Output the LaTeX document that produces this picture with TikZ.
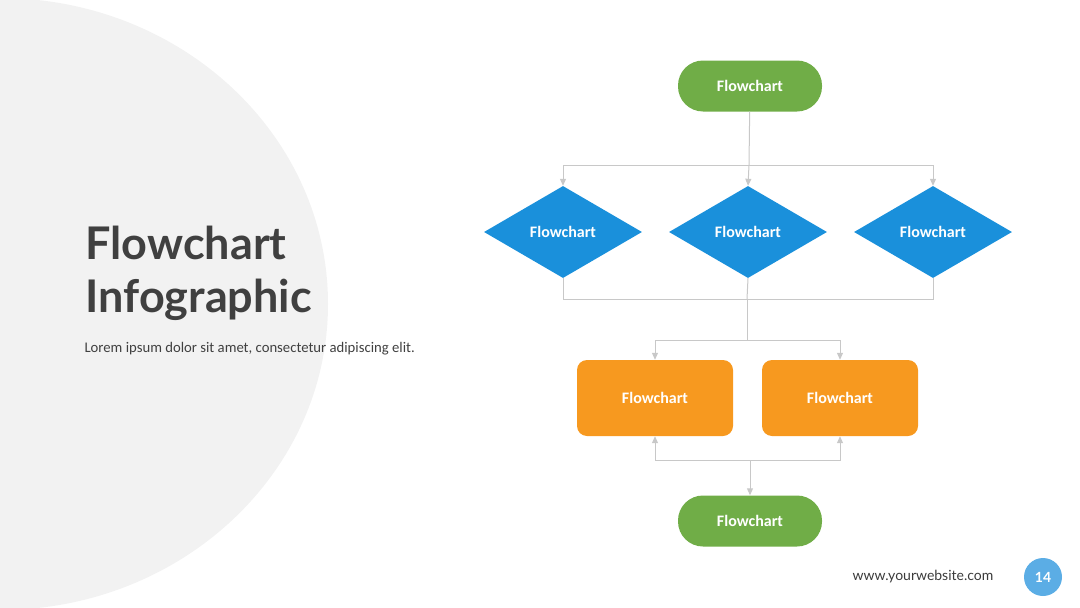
\documentclass[tikz,border=0pt]{standalone}
\usepackage{fontspec}
\setmainfont{Carlito}
\newfontfamily\titlefont{Lato}
\usepackage{tikz}
\usetikzlibrary{shapes.geometric, arrows.meta}

\definecolor{fundo}{HTML}{F2F2F2}
\definecolor{verde}{HTML}{70AD47}
\definecolor{azul}{HTML}{1A90DB}
\definecolor{laranja}{HTML}{F7991F}
\definecolor{linha}{HTML}{C8C8C8}
\definecolor{texto}{HTML}{404040}
\definecolor{selo}{HTML}{5BADE5}

\begin{document}
\begin{tikzpicture}[
        x=1pt, y=-1pt,
        >={Triangle[length=7pt, width=6pt]},
        terminal/.style={rectangle, rounded corners=25pt, fill=verde, minimum width=144pt, minimum height=51pt, inner sep=0pt},
        decisao/.style={diamond, fill=azul, minimum width=158pt, minimum height=92pt, inner sep=0pt},
        processo/.style={rectangle, rounded corners=10pt, fill=laranja, minimum width=156pt, minimum height=76pt, inner sep=0pt},
        seta/.style={draw=linha, line width=1pt},
        every node/.style={font=\fontsize{16}{19}\selectfont\bfseries, text=white}
    ]

        \useasboundingbox (0,0) rectangle (1080,608);

        % ==================================================
        % FUNDO E TITULO
        % ==================================================

        \fill[fundo] (0,304) ellipse [x radius=328pt, y radius=306pt];

        \node[anchor=base west, text=texto, font=\titlefont\fontsize{45}{54}\selectfont\bfseries] (titulo1) at (82,259) {Flowchart};
        \node[anchor=base west, text=texto, font=\titlefont\fontsize{45}{54}\selectfont\bfseries] (titulo2) at (82,312) {Infographic};
        \node[anchor=base west, text=texto, font=\fontsize{14.7}{17}\selectfont] (lorem) at (81,352) {Lorem ipsum dolor sit amet, consectetur adipiscing elit.};

        % ==================================================
        % FLUXOGRAMA
        % ==================================================

        \node[terminal] (inicio) at (750,86) {Flowchart};

        % Decisoes
        \node[decisao] (d1) at (563,232) {Flowchart};
        \node[decisao] (d2) at (748,232) {Flowchart};
        \node[decisao] (d3) at (933,232) {Flowchart};

        % Processos
        \node[processo] (p1) at (655,398) {Flowchart};
        \node[processo] (p2) at (840,398) {Flowchart};

        \node[terminal] (fim) at (750,521) {Flowchart};

        % Pontos de juncao
        \coordinate (j1) at (749,165);
        \coordinate (j2) at (747,299);
        \coordinate (j3) at (747,340);
        \coordinate (j4) at (750,460);

        % Setas
        \draw[seta] (inicio) -- (j1);
        \draw[seta,->] (j1) -| (d1.north);
        \draw[seta,->] (j1) -- (d2.north);
        \draw[seta,->] (j1) -| (d3.north);

        \draw[seta] (d1.south) |- (j2);
        \draw[seta] (d3.south) |- (j2);
        \draw[seta] (d2.south) -- (j2);
        \draw[seta] (j2) -- (j3);
        \draw[seta,->] (j3) -| (p1.north);
        \draw[seta,->] (j3) -| (p2.north);

        \draw[seta,->] (j4) -| (p1.south);
        \draw[seta,->] (j4) -| (p2.south);
        \draw[seta,->] (j4) -- (fim);

        % ==================================================
        % RODAPE
        % ==================================================

        \node[text=texto!90!black, font=\titlefont\fontsize{14}{16}\selectfont] (site) at (923,577) {www.yourwebsite.com};
        \node[circle, fill=selo, minimum size=38pt, inner sep=0pt, font=\titlefont\fontsize{14}{16}\selectfont\bfseries] (pagina) at (1043,577) {14};
    \end{tikzpicture}
\end{document}
